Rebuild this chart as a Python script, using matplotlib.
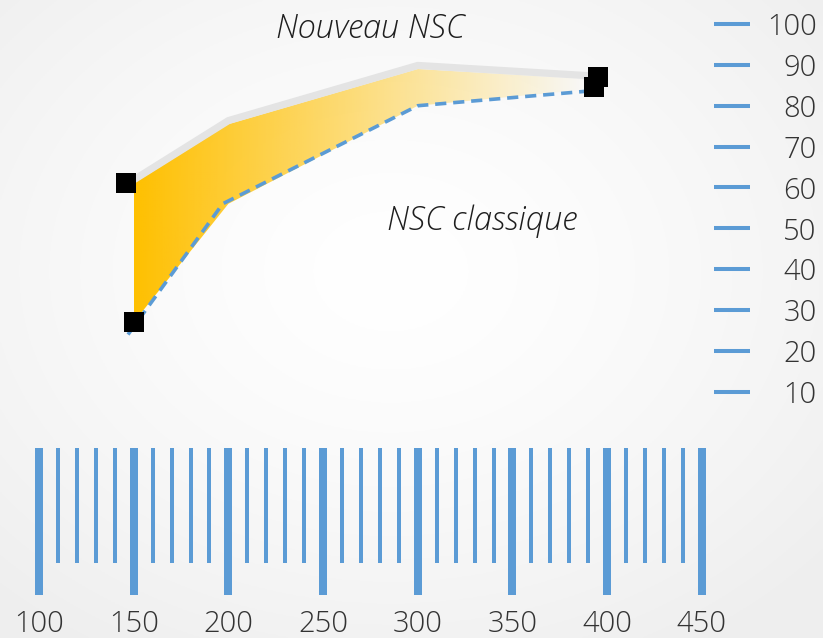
"""Nouveau NSC vs NSC classique - shaded band between two curves, ruler-style axes."""

import matplotlib

matplotlib.use("Agg")
import matplotlib.pyplot as plt  # noqa: E402
import matplotlib.transforms as mtransforms  # noqa: E402
import numpy as np  # noqa: E402
from matplotlib import font_manager as fm  # noqa: E402
from matplotlib.colors import to_rgb  # noqa: E402

# data
x_pts = [150, 200, 300, 390]
nouveau = [61, 75.5, 89, 86.5]        # upper curve (gray)
classique = [27, 56, 80, 84]          # lower curve (dashed blue)
dash_x = [147, 197, 300, 388]
dash_y = [24, 56, 80, 83.5]
marker_x = [146, 150, 395, 393]
marker_y = [61, 27, 87, 84.6]
y_ticks = [10, 20, 30, 40, 50, 60, 70, 80, 90, 100]
ruler_x = list(range(100, 451, 10))
ruler_labels = [100, 150, 200, 250, 300, 350, 400, 450]

BLUE = "#5b9bd5"
GOLD = "#ffc000"
GRAY = "#e4e4e4"
INK = "#333333"

W, H = 823, 638
# pixel <-> data mapping measured on the reference
X0_PX, X0_V, XS = 39.0, 100.0, 1.894    # px per x unit
Y0_PX, Y0_V, YS = 24.0, 100.0, 4.086    # px per y unit


def xv(px):
    return X0_V + (px - X0_PX) / XS


def yv(px):
    return Y0_V - (px - Y0_PX) / YS


def _w(f):
    w = f.weight
    if isinstance(w, str):
        w = fm.weight_dict.get(w, 400)
    return int(w)


def light_font(style):
    """Look for a Light face (Segoe UI Light stand-in) among installed fonts."""
    for fam in ("Open Sans", "Lato", "Roboto", "Noto Sans", "Inter"):
        for f in fm.fontManager.ttflist:
            if (f.name in (fam, fam + " Light") and f.style == style
                    and f.stretch == "normal" and "ondensed" not in f.fname
                    and 250 <= _w(f) <= 300):
                return fm.FontProperties(fname=f.fname)
    return fm.FontProperties(family="Open Sans", weight="light", style=style)


TICK_FP = light_font("normal")
ITAL_FP = light_font("italic")

fig = plt.figure(figsize=(W / 100, H / 100), dpi=100)

# soft radial background
bg = fig.add_axes([0, 0, 1, 1], zorder=-10)
gx, gy = np.meshgrid(np.linspace(-1, 1, 400), np.linspace(-1, 1, 320))
r = np.clip(np.sqrt((gx + 0.05) ** 2 + (gy + 0.15) ** 2) / 1.4, 0, 1)
shade = 1.0 - 0.065 * r ** 1.4
bg.imshow(np.dstack([shade] * 3), extent=[0, 1, 0, 1], aspect="auto")
bg.axis("off")

# main axes: covers px x 0..714, px y 0..420
right_px, bottom_px = 714, 420
ax = fig.add_axes([0, 1 - bottom_px / H, right_px / W, bottom_px / H])
ax.patch.set_alpha(0)

band = ax.fill_between(x_pts, classique, nouveau, facecolor="none", edgecolor="none")
grad = np.zeros((2, 256, 4))
grad[..., :3] = to_rgb(GOLD)
grad[..., 3] = np.linspace(1.0, 0.0, 256)
im = ax.imshow(grad, extent=[x_pts[0], x_pts[-1], min(classique), max(nouveau)],
               aspect="auto", origin="lower", zorder=1, interpolation="bilinear")
im.set_clip_path(band.get_paths()[0], transform=ax.transData)

# gray rim sits just above the band's top edge
rim = mtransforms.offset_copy(ax.transData, fig=fig, y=3.5, units="dots")
ax.plot(x_pts, nouveau, color=GRAY, lw=5.2, solid_capstyle="butt", transform=rim, zorder=2)
ax.plot(dash_x, dash_y, color=BLUE, lw=2.6, dashes=(3.1, 1.9), zorder=3)
ax.scatter(marker_x, marker_y, marker="s", s=225, color="black", zorder=5, linewidths=0)

ax.text(xv(370), yv(29), "Nouveau NSC", fontproperties=ITAL_FP, fontsize=23.5,
        color="#1e1e1e", ha="center", va="center")
ax.text(xv(482), yv(221), "NSC classique", fontproperties=ITAL_FP, fontsize=23.5,
        color="#1e1e1e", ha="center", va="center")

ax.set_xlim(xv(0), xv(right_px))
ax.set_ylim(yv(bottom_px), yv(0))
for s in ax.spines.values():
    s.set_visible(False)
ax.set_xticks([])
ax.yaxis.tick_right()
ax.set_yticks(y_ticks)
ax.set_yticklabels([str(v) for v in y_ticks], fontproperties=TICK_FP,
                   fontsize=21, color=INK, ha="right")
ax.tick_params(axis="y", direction="out", length=26, width=2.9, color=BLUE, pad=48)

# bottom ruler
top_px, bot_px = 448, 594.7
rax = fig.add_axes([0, 1 - bot_px / H, right_px / W, (bot_px - top_px) / H])
rax.patch.set_alpha(0)
major = [v % 50 == 0 for v in ruler_x]
heights = [1.0 if m else (562.7 - top_px) / (bot_px - top_px) for m in major]
widths = [8 / XS if m else 4 / XS for m in major]
rax.bar(ruler_x, heights, width=widths, bottom=0, color=BLUE)
rax.set_xlim(xv(0), xv(right_px))
rax.set_ylim(1, 0)
for s in rax.spines.values():
    s.set_visible(False)
rax.set_yticks([])
rax.set_xticks(ruler_labels)
rax.set_xticklabels([str(v) for v in ruler_labels], fontproperties=TICK_FP,
                    fontsize=21, color=INK)
rax.tick_params(axis="x", length=0, pad=11)

fig.savefig("out.png", dpi=100)
